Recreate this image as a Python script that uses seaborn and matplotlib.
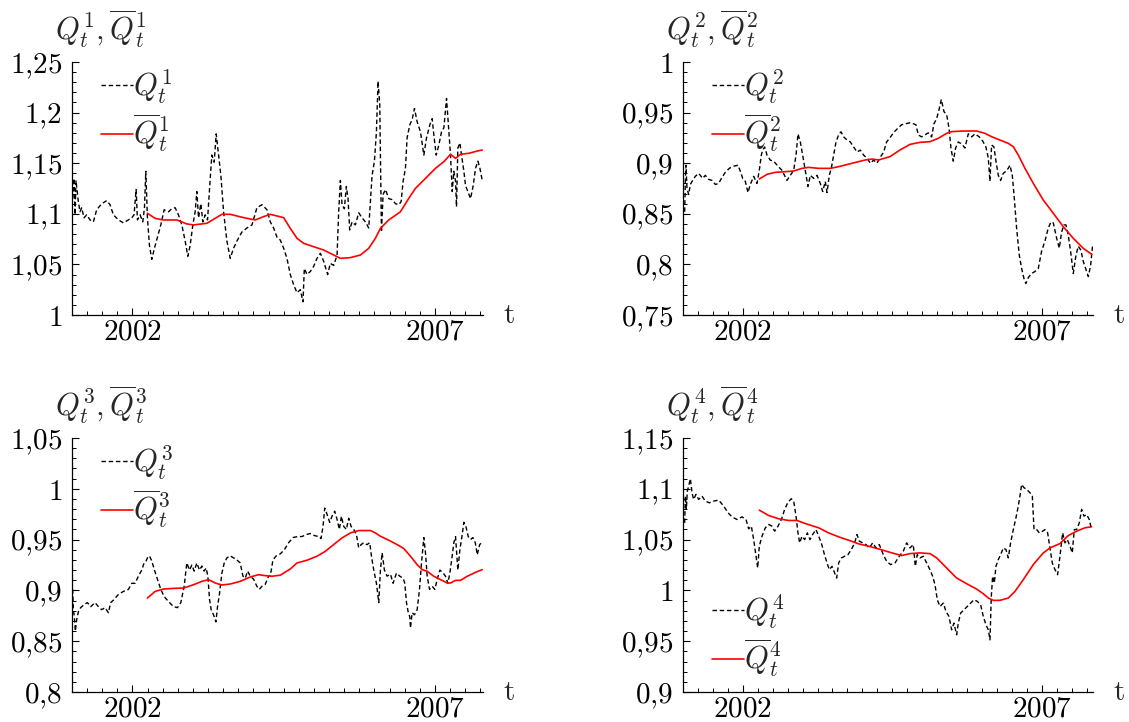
import numpy as np
import pandas as pd
import matplotlib
matplotlib.use("Agg")
import matplotlib.pyplot as plt
import seaborn as sns
from matplotlib.ticker import FixedLocator, MultipleLocator, FuncFormatter

# ---------------- data (decimal years) ----------------
Q1_t = [2001.011, 2001.033, 2001.050, 2001.066, 2001.105, 2001.132, 2001.160, 2001.199, 2001.243, 2001.298,
        2001.353, 2001.408, 2001.491, 2001.574, 2001.629, 2001.684, 2001.767, 2001.850, 2001.933, 2001.988,
        2002.026, 2002.060, 2002.082, 2002.126, 2002.170, 2002.198, 2002.220, 2002.247, 2002.280, 2002.319,
        2002.363, 2002.413, 2002.468, 2002.523, 2002.595, 2002.650, 2002.705, 2002.760, 2002.816, 2002.871,
        2002.915, 2002.954, 2002.998, 2003.036, 2003.064, 2003.092, 2003.130, 2003.163, 2003.202, 2003.241,
        2003.285, 2003.312, 2003.351, 2003.384, 2003.423, 2003.461, 2003.506, 2003.561, 2003.616, 2003.671,
        2003.726, 2003.809, 2003.892, 2003.975, 2004.057, 2004.140, 2004.223, 2004.278, 2004.333, 2004.388,
        2004.444, 2004.499, 2004.554, 2004.609, 2004.664, 2004.720, 2004.775, 2004.819, 2004.841, 2004.885,
        2004.940, 2004.995, 2005.050, 2005.106, 2005.161, 2005.227, 2005.271, 2005.326, 2005.382, 2005.409,
        2005.437, 2005.465, 2005.503, 2005.536, 2005.564, 2005.591, 2005.630, 2005.685, 2005.740, 2005.796,
        2005.851, 2005.906, 2005.934, 2005.961, 2006.000, 2006.033, 2006.060, 2006.088, 2006.116, 2006.143,
        2006.182, 2006.237, 2006.292, 2006.348, 2006.403, 2006.441, 2006.474, 2006.513, 2006.540, 2006.585,
        2006.623, 2006.662, 2006.706, 2006.761, 2006.817, 2006.861, 2006.916, 2006.955, 2006.982, 2007.021,
        2007.065, 2007.109, 2007.148, 2007.192, 2007.231, 2007.258, 2007.286, 2007.313, 2007.341, 2007.357,
        2007.379, 2007.413, 2007.440, 2007.479, 2007.506, 2007.545, 2007.589, 2007.633, 2007.672, 2007.711,
        2007.744, 2007.782]
Q1_v = [1.115, 1.135, 1.099, 1.133, 1.112, 1.102, 1.106, 1.096, 1.099, 1.094,
        1.092, 1.104, 1.110, 1.113, 1.109, 1.099, 1.094, 1.091, 1.094, 1.096,
        1.099, 1.124, 1.094, 1.099, 1.092, 1.106, 1.142, 1.096, 1.069, 1.055,
        1.066, 1.077, 1.089, 1.104, 1.102, 1.105, 1.106, 1.099, 1.089, 1.073,
        1.058, 1.069, 1.089, 1.102, 1.122, 1.096, 1.110, 1.092, 1.099, 1.094,
        1.135, 1.158, 1.151, 1.179, 1.158, 1.138, 1.102, 1.073, 1.056, 1.066,
        1.073, 1.082, 1.086, 1.089, 1.106, 1.109, 1.104, 1.092, 1.086, 1.077,
        1.074, 1.066, 1.056, 1.040, 1.030, 1.022, 1.025, 1.013, 1.046, 1.040,
        1.043, 1.048, 1.056, 1.061, 1.053, 1.040, 1.051, 1.049, 1.059, 1.102,
        1.133, 1.109, 1.105, 1.127, 1.115, 1.084, 1.092, 1.089, 1.101, 1.096,
        1.092, 1.086, 1.112, 1.138, 1.152, 1.181, 1.231, 1.208, 1.082, 1.119,
        1.124, 1.115, 1.114, 1.110, 1.109, 1.112, 1.132, 1.145, 1.175, 1.188,
        1.193, 1.204, 1.191, 1.181, 1.158, 1.175, 1.188, 1.194, 1.178, 1.158,
        1.168, 1.181, 1.185, 1.214, 1.181, 1.158, 1.122, 1.142, 1.132, 1.107,
        1.165, 1.170, 1.158, 1.142, 1.128, 1.122, 1.115, 1.128, 1.145, 1.152,
        1.145, 1.133]
M1_t = [2002.247, 2002.374, 2002.512, 2002.733, 2002.898, 2003.009, 2003.230, 2003.367, 2003.478, 2003.616,
        2003.837, 2004.030, 2004.168, 2004.278, 2004.499, 2004.609, 2004.720, 2004.830, 2004.995, 2005.161,
        2005.326, 2005.437, 2005.603, 2005.768, 2005.906, 2006.016, 2006.099, 2006.237, 2006.430, 2006.568,
        2006.679, 2006.844, 2007.010, 2007.148, 2007.258, 2007.341, 2007.424, 2007.562, 2007.700, 2007.782]
M1_v = [1.1005, 1.0955, 1.0939, 1.0939, 1.0900, 1.0890, 1.0906, 1.0955, 1.0995, 1.0995,
        1.0962, 1.0939, 1.0972, 1.0995, 1.0962, 1.0856, 1.0758, 1.0708, 1.0675, 1.0642,
        1.0593, 1.0560, 1.0567, 1.0593, 1.0659, 1.0758, 1.0856, 1.0939, 1.1020, 1.1153,
        1.1252, 1.1350, 1.1450, 1.1515, 1.1588, 1.1548, 1.1588, 1.1598, 1.1620, 1.1630]

Q2_t = [2001.028, 2001.039, 2001.050, 2001.067, 2001.095, 2001.123, 2001.162, 2001.206, 2001.262, 2001.329,
        2001.373, 2001.429, 2001.485, 2001.541, 2001.596, 2001.652, 2001.708, 2001.775, 2001.847, 2001.920,
        2001.959, 2001.998, 2002.042, 2002.087, 2002.126, 2002.182, 2002.237, 2002.276, 2002.310, 2002.332,
        2002.366, 2002.405, 2002.460, 2002.516, 2002.589, 2002.655, 2002.739, 2002.795, 2002.851, 2002.890,
        2002.923, 2002.962, 2003.001, 2003.046, 2003.090, 2003.129, 2003.185, 2003.241, 2003.296, 2003.336,
        2003.380, 2003.408, 2003.447, 2003.480, 2003.520, 2003.559, 2003.603, 2003.642, 2003.687, 2003.742,
        2003.798, 2003.854, 2003.910, 2003.965, 2004.021, 2004.077, 2004.133, 2004.188, 2004.244, 2004.300,
        2004.356, 2004.405, 2004.461, 2004.517, 2004.584, 2004.656, 2004.729, 2004.796, 2004.851, 2004.896,
        2004.935, 2004.991, 2005.047, 2005.102, 2005.158, 2005.197, 2005.242, 2005.286, 2005.320, 2005.364,
        2005.409, 2005.448, 2005.481, 2005.520, 2005.559, 2005.604, 2005.660, 2005.715, 2005.771, 2005.827,
        2005.883, 2005.955, 2006.011, 2006.066, 2006.106, 2006.133, 2006.161, 2006.200, 2006.234, 2006.273,
        2006.312, 2006.356, 2006.401, 2006.440, 2006.468, 2006.507, 2006.541, 2006.579, 2006.624, 2006.663,
        2006.702, 2006.735, 2006.775, 2006.830, 2006.886, 2006.942, 2006.997, 2007.053, 2007.109, 2007.154,
        2007.193, 2007.248, 2007.293, 2007.332, 2007.371, 2007.404, 2007.443, 2007.482, 2007.527, 2007.572,
        2007.610, 2007.655, 2007.694, 2007.733, 2007.778, 2007.817, 2007.850]
Q2_v = [0.852, 0.882, 0.898, 0.875, 0.869, 0.879, 0.883, 0.887, 0.890, 0.885,
        0.888, 0.884, 0.883, 0.879, 0.880, 0.886, 0.891, 0.895, 0.897, 0.898,
        0.892, 0.885, 0.882, 0.871, 0.879, 0.887, 0.880, 0.893, 0.908, 0.913,
        0.916, 0.908, 0.903, 0.902, 0.897, 0.893, 0.883, 0.888, 0.893, 0.908,
        0.929, 0.921, 0.908, 0.892, 0.877, 0.888, 0.885, 0.888, 0.880, 0.872,
        0.882, 0.871, 0.888, 0.895, 0.908, 0.921, 0.928, 0.931, 0.926, 0.923,
        0.921, 0.916, 0.911, 0.913, 0.908, 0.905, 0.900, 0.903, 0.900, 0.906,
        0.911, 0.921, 0.925, 0.930, 0.934, 0.938, 0.939, 0.940, 0.939, 0.938,
        0.928, 0.926, 0.928, 0.930, 0.926, 0.939, 0.944, 0.954, 0.963, 0.951,
        0.948, 0.935, 0.915, 0.902, 0.915, 0.921, 0.919, 0.915, 0.929, 0.926,
        0.929, 0.926, 0.922, 0.916, 0.905, 0.882, 0.918, 0.916, 0.902, 0.888,
        0.883, 0.890, 0.892, 0.895, 0.898, 0.888, 0.865, 0.836, 0.809, 0.796,
        0.786, 0.781, 0.787, 0.791, 0.793, 0.796, 0.813, 0.823, 0.836, 0.842,
        0.841, 0.826, 0.816, 0.832, 0.839, 0.839, 0.829, 0.813, 0.791, 0.809,
        0.818, 0.814, 0.803, 0.796, 0.788, 0.799, 0.819]
M2_t = [2002.276, 2002.405, 2002.544, 2002.711, 2002.851, 2002.990, 2003.101, 2003.269, 2003.464, 2003.603,
        2003.826, 2004.049, 2004.161, 2004.272, 2004.461, 2004.628, 2004.796, 2004.963, 2005.130, 2005.270,
        2005.409, 2005.492, 2005.688, 2005.911, 2006.050, 2006.161, 2006.300, 2006.440, 2006.524, 2006.607,
        2006.719, 2006.858, 2007.025, 2007.193, 2007.359, 2007.527, 2007.694, 2007.833]
M2_v = [0.8844, 0.8890, 0.8910, 0.8916, 0.8923, 0.8949, 0.8959, 0.8949, 0.8949, 0.8966,
        0.8999, 0.9032, 0.9041, 0.9032, 0.9065, 0.9130, 0.9186, 0.9206, 0.9213, 0.9246,
        0.9295, 0.9312, 0.9318, 0.9318, 0.9295, 0.9262, 0.9229, 0.9196, 0.9163, 0.9081,
        0.8949, 0.8801, 0.8636, 0.8505, 0.8373, 0.8258, 0.8159, 0.8100]

Q3_t = [2001.011, 2001.022, 2001.039, 2001.055, 2001.077, 2001.105, 2001.143, 2001.199, 2001.254, 2001.309,
        2001.381, 2001.436, 2001.491, 2001.546, 2001.602, 2001.640, 2001.695, 2001.767, 2001.850, 2001.933,
        2001.988, 2002.043, 2002.098, 2002.153, 2002.192, 2002.225, 2002.247, 2002.280, 2002.319, 2002.363,
        2002.413, 2002.468, 2002.523, 2002.595, 2002.678, 2002.744, 2002.799, 2002.854, 2002.898, 2002.943,
        2002.981, 2003.020, 2003.064, 2003.108, 2003.147, 2003.185, 2003.219, 2003.246, 2003.274, 2003.301,
        2003.340, 2003.379, 2003.406, 2003.439, 2003.478, 2003.517, 2003.561, 2003.616, 2003.671, 2003.726,
        2003.781, 2003.826, 2003.864, 2003.903, 2003.947, 2004.002, 2004.057, 2004.096, 2004.140, 2004.195,
        2004.250, 2004.278, 2004.322, 2004.377, 2004.444, 2004.510, 2004.582, 2004.653, 2004.730, 2004.802,
        2004.874, 2004.940, 2005.006, 2005.078, 2005.117, 2005.150, 2005.178, 2005.216, 2005.260, 2005.299,
        2005.343, 2005.382, 2005.420, 2005.454, 2005.492, 2005.536, 2005.575, 2005.614, 2005.658, 2005.702,
        2005.740, 2005.779, 2005.823, 2005.878, 2005.922, 2005.950, 2005.989, 2006.033, 2006.072, 2006.099,
        2006.127, 2006.165, 2006.209, 2006.265, 2006.309, 2006.364, 2006.419, 2006.475, 2006.502, 2006.530,
        2006.557, 2006.585, 2006.596, 2006.623, 2006.662, 2006.706, 2006.745, 2006.778, 2006.817, 2006.844,
        2006.872, 2006.911, 2006.955, 2006.999, 2007.038, 2007.082, 2007.137, 2007.175, 2007.214, 2007.247,
        2007.286, 2007.313, 2007.341, 2007.379, 2007.413, 2007.446, 2007.479, 2007.512, 2007.551, 2007.589,
        2007.628, 2007.667, 2007.700, 2007.739, 2007.772]
Q3_v = [0.901, 0.881, 0.874, 0.860, 0.871, 0.879, 0.883, 0.886, 0.888, 0.884,
        0.888, 0.884, 0.881, 0.883, 0.878, 0.888, 0.891, 0.896, 0.899, 0.901,
        0.907, 0.907, 0.914, 0.920, 0.927, 0.929, 0.932, 0.934, 0.929, 0.920,
        0.911, 0.901, 0.894, 0.889, 0.884, 0.883, 0.888, 0.904, 0.927, 0.920,
        0.925, 0.919, 0.927, 0.920, 0.924, 0.919, 0.922, 0.914, 0.891, 0.881,
        0.876, 0.869, 0.884, 0.897, 0.917, 0.927, 0.932, 0.934, 0.932, 0.930,
        0.927, 0.914, 0.912, 0.919, 0.914, 0.911, 0.904, 0.901, 0.904, 0.906,
        0.914, 0.914, 0.930, 0.934, 0.936, 0.940, 0.947, 0.952, 0.953, 0.953,
        0.955, 0.956, 0.954, 0.953, 0.951, 0.963, 0.981, 0.975, 0.967, 0.973,
        0.978, 0.970, 0.960, 0.973, 0.963, 0.960, 0.971, 0.963, 0.960, 0.955,
        0.942, 0.945, 0.947, 0.945, 0.947, 0.934, 0.920, 0.907, 0.888, 0.920,
        0.937, 0.920, 0.914, 0.916, 0.907, 0.917, 0.914, 0.912, 0.907, 0.888,
        0.879, 0.874, 0.863, 0.878, 0.876, 0.881, 0.901, 0.927, 0.952, 0.937,
        0.914, 0.901, 0.904, 0.901, 0.911, 0.920, 0.917, 0.914, 0.907, 0.917,
        0.934, 0.947, 0.953, 0.920, 0.940, 0.953, 0.967, 0.963, 0.953, 0.950,
        0.952, 0.947, 0.935, 0.945, 0.947]
M3_t = [2002.247, 2002.374, 2002.512, 2002.678, 2002.843, 2003.009, 2003.147, 2003.257, 2003.367, 2003.478,
        2003.616, 2003.781, 2003.947, 2004.085, 2004.195, 2004.306, 2004.444, 2004.609, 2004.720, 2004.885,
        2005.050, 2005.189, 2005.326, 2005.465, 2005.603, 2005.740, 2005.934, 2006.016, 2006.099, 2006.237,
        2006.375, 2006.486, 2006.596, 2006.706, 2006.789, 2006.872, 2006.982, 2007.093, 2007.203, 2007.258,
        2007.341, 2007.424, 2007.534, 2007.672, 2007.782]
M3_v = [0.8925, 0.8990, 0.9013, 0.9020, 0.9023, 0.9056, 0.9089, 0.9106, 0.9073, 0.9053,
        0.9063, 0.9089, 0.9132, 0.9155, 0.9145, 0.9139, 0.9150, 0.9211, 0.9270, 0.9297,
        0.9336, 0.9385, 0.9451, 0.9517, 0.9566, 0.9589, 0.9589, 0.9566, 0.9533, 0.9494,
        0.9451, 0.9412, 0.9336, 0.9254, 0.9204, 0.9188, 0.9139, 0.9106, 0.9073, 0.9073,
        0.9099, 0.9099, 0.9139, 0.9178, 0.9204]

Q4_t = [2001.028, 2001.039, 2001.056, 2001.072, 2001.095, 2001.123, 2001.151, 2001.178, 2001.217, 2001.262,
        2001.318, 2001.373, 2001.440, 2001.513, 2001.596, 2001.680, 2001.753, 2001.819, 2001.903, 2001.987,
        2002.054, 2002.098, 2002.143, 2002.182, 2002.221, 2002.249, 2002.276, 2002.321, 2002.377, 2002.433,
        2002.488, 2002.533, 2002.589, 2002.645, 2002.700, 2002.756, 2002.812, 2002.851, 2002.890, 2002.923,
        2002.951, 2002.990, 2003.035, 2003.079, 2003.124, 2003.168, 2003.224, 2003.269, 2003.313, 2003.358,
        2003.408, 2003.447, 2003.492, 2003.536, 2003.570, 2003.603, 2003.648, 2003.703, 2003.759, 2003.815,
        2003.871, 2003.910, 2003.949, 2004.005, 2004.060, 2004.116, 2004.172, 2004.227, 2004.283, 2004.350,
        2004.405, 2004.472, 2004.545, 2004.617, 2004.684, 2004.740, 2004.796, 2004.851, 2004.885, 2004.918,
        2004.963, 2005.019, 2005.074, 2005.130, 2005.175, 2005.214, 2005.253, 2005.297, 2005.353, 2005.398,
        2005.448, 2005.492, 2005.531, 2005.576, 2005.604, 2005.643, 2005.699, 2005.754, 2005.810, 2005.866,
        2005.922, 2005.977, 2006.022, 2006.067, 2006.106, 2006.134, 2006.156, 2006.178, 2006.206, 2006.234,
        2006.273, 2006.312, 2006.357, 2006.401, 2006.440, 2006.479, 2006.524, 2006.568, 2006.607, 2006.635,
        2006.663, 2006.702, 2006.747, 2006.803, 2006.842, 2006.870, 2006.914, 2006.959, 2007.014, 2007.053,
        2007.098, 2007.137, 2007.176, 2007.221, 2007.265, 2007.304, 2007.349, 2007.388, 2007.427, 2007.472,
        2007.510, 2007.544, 2007.583, 2007.628, 2007.666, 2007.705, 2007.750, 2007.794, 2007.833]
Q4_v = [1.0665, 1.0928, 1.0797, 1.0978, 1.1027, 1.1099, 1.0961, 1.0895, 1.0945, 1.0895,
        1.0928, 1.0879, 1.0862, 1.0879, 1.0889, 1.0830, 1.0764, 1.0724, 1.0698, 1.0724,
        1.0698, 1.0606, 1.0632, 1.0500, 1.0336, 1.0221, 1.0435, 1.0533, 1.0616, 1.0649,
        1.0632, 1.0583, 1.0632, 1.0698, 1.0797, 1.0869, 1.0902, 1.0879, 1.0731, 1.0566,
        1.0468, 1.0533, 1.0500, 1.0566, 1.0500, 1.0550, 1.0599, 1.0533, 1.0468, 1.0369,
        1.0270, 1.0204, 1.0237, 1.0171, 1.0122, 1.0270, 1.0319, 1.0336, 1.0352, 1.0402,
        1.0468, 1.0550, 1.0484, 1.0468, 1.0451, 1.0418, 1.0468, 1.0418, 1.0451, 1.0352,
        1.0287, 1.0254, 1.0270, 1.0336, 1.0385, 1.0468, 1.0418, 1.0451, 1.0237, 1.0352,
        1.0320, 1.0336, 1.0270, 1.0204, 1.0139, 1.0056, 0.9908, 0.9842, 0.9875, 0.9793,
        0.9744, 0.9612, 0.9678, 0.9563, 0.9678, 0.9777, 0.9809, 0.9842, 0.9875, 0.9908,
        0.9892, 0.9859, 0.9744, 0.9661, 0.9612, 0.9513, 0.9941, 1.0139, 1.0073, 1.0237,
        1.0303, 1.0352, 1.0418, 1.0402, 1.0320, 1.0468, 1.0599, 1.0714, 1.0830, 1.0928,
        1.1043, 1.1011, 1.0994, 1.0961, 1.0928, 1.0599, 1.0599, 1.0566, 1.0583, 1.0599,
        1.0566, 1.0418, 1.0270, 1.0204, 1.0155, 1.0336, 1.0566, 1.0468, 1.0500, 1.0435,
        1.0369, 1.0599, 1.0599, 1.0665, 1.0797, 1.0731, 1.0747, 1.0698, 1.0599]
M4_t = [2002.276, 2002.433, 2002.600, 2002.767, 2002.906, 2003.046, 2003.269, 2003.436, 2003.603, 2003.770,
        2003.938, 2004.105, 2004.272, 2004.461, 2004.656, 2004.796, 2004.963, 2005.130, 2005.242, 2005.409,
        2005.576, 2005.743, 2005.911, 2006.022, 2006.106, 2006.189, 2006.301, 2006.440, 2006.552, 2006.691,
        2006.858, 2007.025, 2007.137, 2007.304, 2007.444, 2007.583, 2007.722, 2007.833]
M4_v = [1.0790, 1.0737, 1.0705, 1.0688, 1.0688, 1.0658, 1.0616, 1.0566, 1.0527, 1.0494,
        1.0458, 1.0435, 1.0408, 1.0375, 1.0343, 1.0362, 1.0369, 1.0362, 1.0320, 1.0221,
        1.0122, 1.0066, 1.0013, 0.9967, 0.9925, 0.9902, 0.9902, 0.9925, 0.9990, 1.0106,
        1.0254, 1.0369, 1.0418, 1.0461, 1.0540, 1.0583, 1.0616, 1.0626]

Y_LIMITS = [(1.0, 1.25), (0.75, 1.0), (0.8, 1.05), (0.9, 1.15)]
X_LABELS = [2002, 2007]

# ---------------- style ----------------
sns.set_theme(style="ticks")
plt.rcParams.update({
    "mathtext.fontset": "cm",
    "font.family": ["DejaVu Serif"],
    "axes.linewidth": 0.9,
    "axes.edgecolor": "black",
    "xtick.color": "black",
    "ytick.color": "black",
})

FS = 21
fig = plt.figure(figsize=(11.29, 7.22), dpi=100)

W, H = 1129.0, 722.0
# (left px, top px, right px, bottom px)
boxes = [(72, 62, 482.7, 315), (683, 62, 1092.6, 315),
         (72, 438, 482.7, 692), (683, 438, 1092.6, 692)]
xmax = [2007.79, 2007.85, 2007.79, 2007.85]

series = [(Q1_t, Q1_v, M1_t, M1_v), (Q2_t, Q2_v, M2_t, M2_v),
          (Q3_t, Q3_v, M3_t, M3_v), (Q4_t, Q4_v, M4_t, M4_v)]


def yfmt(v, pos):
    s = f"{v:.2f}".rstrip("0").rstrip(".")
    return "$" + s.replace(".", "{,}") + "$"


for i, ((qt, qv, mt, mv), (l, t, r, b)) in enumerate(zip(series, boxes)):
    k = i + 1
    ax = fig.add_axes([l / W, 1 - b / H, (r - l) / W, (b - t) / H])
    dq = pd.DataFrame({"t": qt, "v": qv})
    dm = pd.DataFrame({"t": mt, "v": mv})
    sns.lineplot(data=dq, x="t", y="v", ax=ax, color="black", lw=1.0,
                 linestyle=(0, (3.2, 2.0)), estimator=None, sort=False,
                 label=rf"$Q^{{{k}}}_{{t}}$")
    sns.lineplot(data=dm, x="t", y="v", ax=ax, color="#ff0000", lw=1.2,
                 estimator=None, sort=False,
                 label=rf"$\overline{{Q}}^{{{k}}}_{{t}}$")
    ax.set_xlim(2001.0, xmax[i])
    ax.set_ylim(*Y_LIMITS[i])
    ax.set_xlabel("")
    ax.set_ylabel("")
    sns.despine(ax=ax)
    ax.xaxis.set_major_locator(FixedLocator(X_LABELS))
    ax.xaxis.set_major_formatter(FuncFormatter(lambda v, p: f"${int(round(v))}$"))
    ax.xaxis.set_minor_locator(MultipleLocator(0.25))
    ax.yaxis.set_major_locator(MultipleLocator(0.05))
    ax.yaxis.set_major_formatter(FuncFormatter(yfmt))
    ax.yaxis.set_minor_locator(MultipleLocator(0.01))
    ax.tick_params(which="major", direction="in", length=5, width=0.8, labelsize=FS)
    ax.tick_params(which="minor", direction="in", length=3, width=0.7)
    ax.tick_params(axis="y", pad=7)
    ax.tick_params(axis="x", pad=1.5)

    # axis titles
    ax.text(-0.042, 1.085, rf"$Q^{{{k}}}_{{t}},\overline{{Q}}^{{{k}}}_{{t}}$",
            transform=ax.transAxes, fontsize=FS + 1, ha="left", va="baseline")
    ax.text(1.05, -0.032, r"$\mathrm{t}$", transform=ax.transAxes,
            fontsize=FS, ha="left", va="baseline")

    common = dict(frameon=False, fontsize=FS + 1, handlelength=1.05, handletextpad=0.0,
                  labelspacing=0.2, borderpad=0.0, borderaxespad=0.0)
    if k == 4:
        ax.legend(loc="lower left", bbox_to_anchor=(0.07, 0.05), **common)
    else:
        ax.legend(loc="upper left", bbox_to_anchor=(0.07, 0.98), **common)

fig.savefig("out.png", dpi=100)
